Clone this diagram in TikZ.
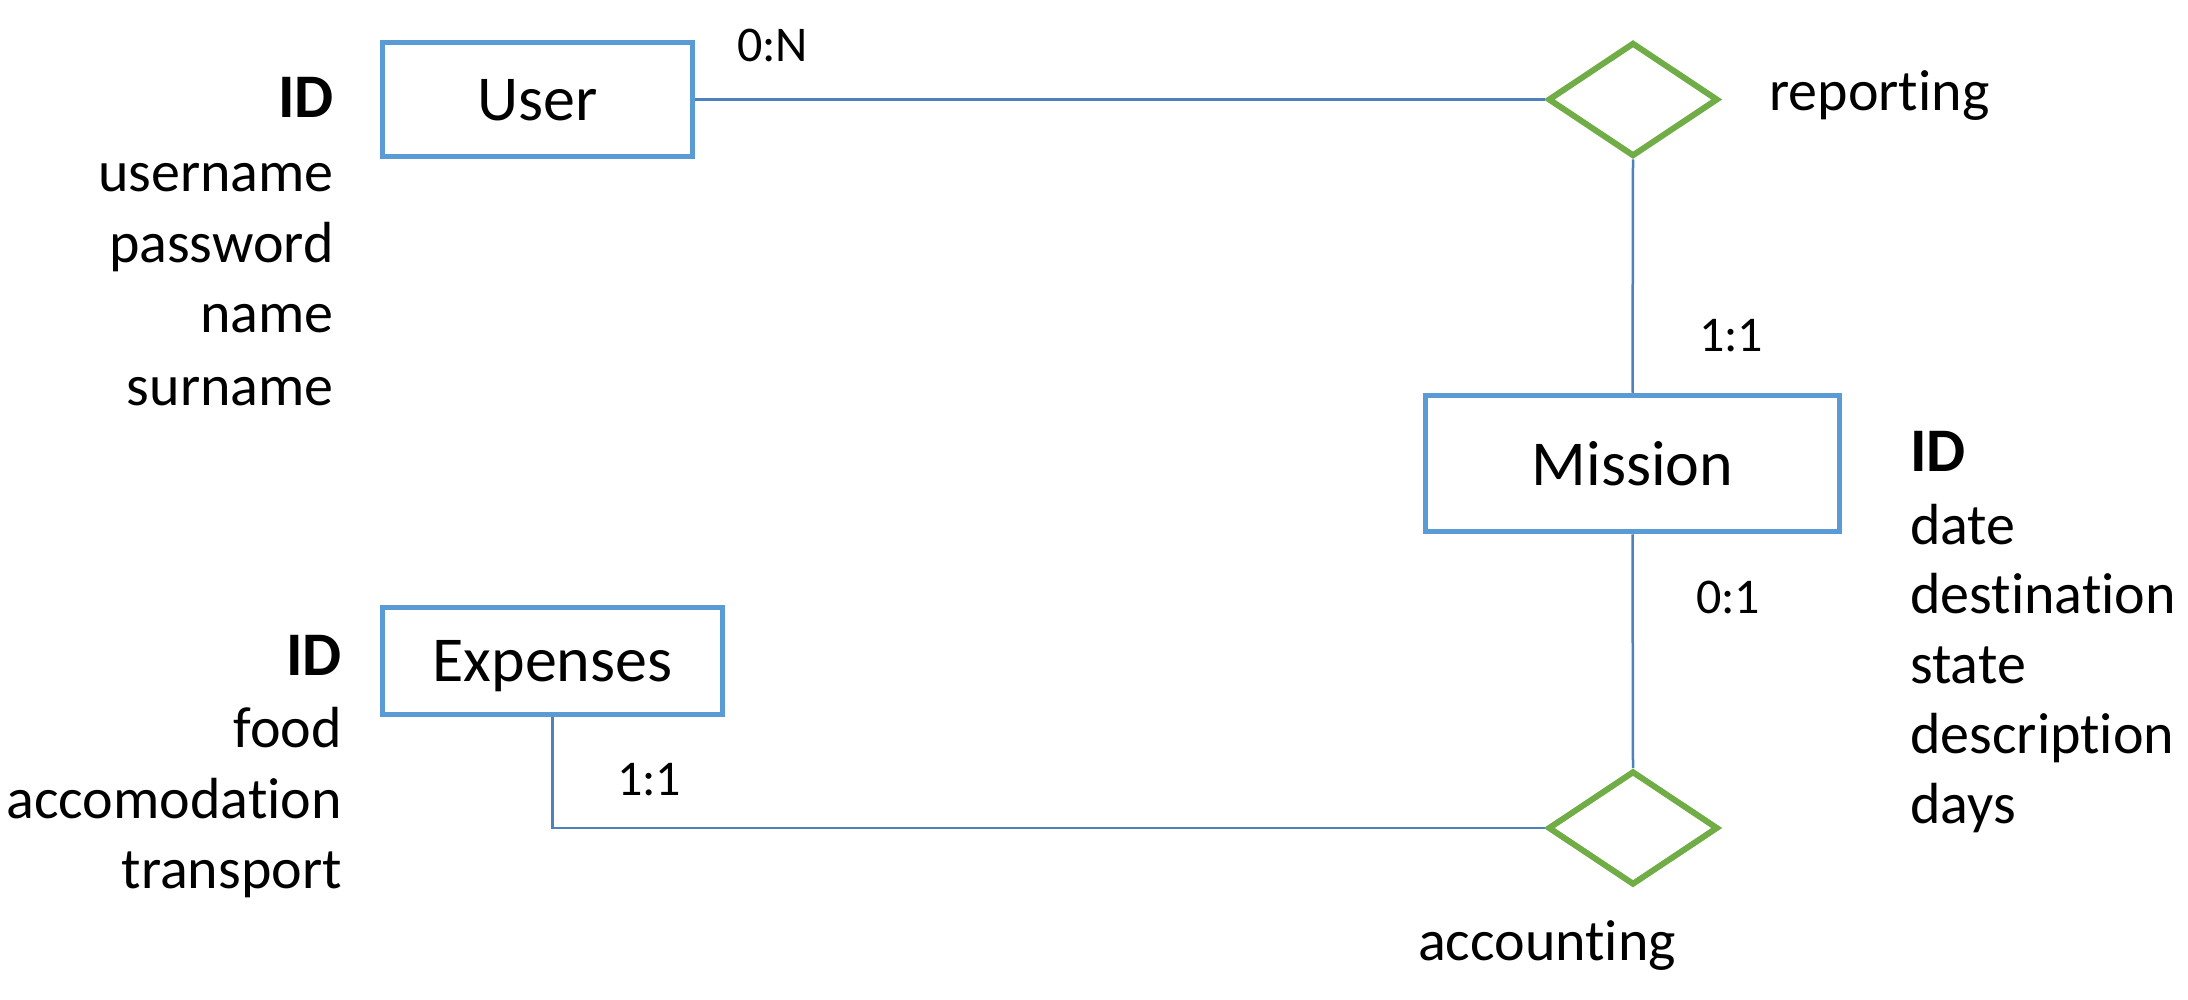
\documentclass[tikz,border=0pt]{standalone}
\usepackage{fontspec}
\setmainfont[Ligatures={NoCommon}]{Carlito}
\usetikzlibrary{shapes.geometric}
\definecolor{boxblue}{HTML}{5B9BD5}
\definecolor{lineblue}{HTML}{4F81BD}
\definecolor{relgreen}{HTML}{70AD47}
\begin{document}
\begin{tikzpicture}[x=1pt,y=-1pt,
  entity/.style={draw=boxblue, line width=5.5pt, inner sep=0pt, text depth=0pt,
    font=\fontsize{64}{77}\selectfont},
  relation/.style={diamond, draw=relgreen, line width=6pt, minimum width=170pt,
    minimum height=114pt, inner sep=0pt},
  conn/.style={draw=lineblue, line width=2.5pt},
  attr/.style={font=\fontsize{58}{70}\selectfont, inner sep=0pt},
  keyattr/.style={font=\fontsize{62}{74}\selectfont\bfseries, inner sep=0pt},
  card/.style={font=\fontsize{50}{60}\selectfont, inner sep=0pt}]
\useasboundingbox (0,0) rectangle (2188,1000);

% entities
\node[entity, minimum width=310pt, minimum height=114pt] (user) at (537.5,99.5) {User};
\node[entity, minimum width=414pt, minimum height=136pt] (mission) at (1632.5,463.5) {Mission};
\node[entity, minimum width=340pt, minimum height=107pt] (expenses) at (552.5,661) {Expenses};

% relations
\node[relation] (reporting) at (1633,99.5) {};
\node[relation] (accounting) at (1633,828) {};

% connectors
\draw[conn] (user.east) -- (reporting.west);
\draw[conn] (reporting.south) -- (mission.north);
\draw[conn] (mission.south) -- (accounting.north);
\draw[conn] (expenses.south) |- (accounting.west);

% relation labels
\node[attr, anchor=base west] (replabel) at (1769,111) {reporting};
\node[attr, anchor=base] (acclabel) at (1547,960) {accounting};

% cardinalities
\node[card, anchor=base west] (c0n) at (737,62) {0:N};
\node[card, anchor=base west] (c11a) at (1699,352) {1:1};
\node[card, anchor=base west] (c01) at (1696,613) {0:1};
\node[card, anchor=base west] (c11b) at (617,795) {1:1};

% User attributes
\node[keyattr, anchor=base east] (uid) at (334,118) {ID};
\node[attr, anchor=base east] (uusername) at (334,192) {username};
\node[attr, anchor=base east] (upassword) at (334,263) {password};
\node[attr, anchor=base east] (uname) at (334,333) {name};
\node[attr, anchor=base east] (usurname) at (334,405) {surname};

% Expenses attributes
\node[keyattr, anchor=base east] (eid) at (342,675) {ID};
\node[attr, anchor=base east] (efood) at (342,747) {food};
\node[attr, anchor=base east] (eacc) at (342,818) {accomodation};
\node[attr, anchor=base east] (etrans) at (342,888) {transport};

% Mission attributes
\node[keyattr, anchor=base west] (mid) at (1910,471) {ID};
\node[attr, anchor=base west] (mdate) at (1910,544) {date};
\node[attr, anchor=base west] (mdest) at (1910,613) {destination};
\node[attr, anchor=base west] (mstate) at (1910,683) {state};
\node[attr, anchor=base west] (mdesc) at (1910,753) {description};
\node[attr, anchor=base west] (mdays) at (1910,823) {days};
\end{tikzpicture}
\end{document}
